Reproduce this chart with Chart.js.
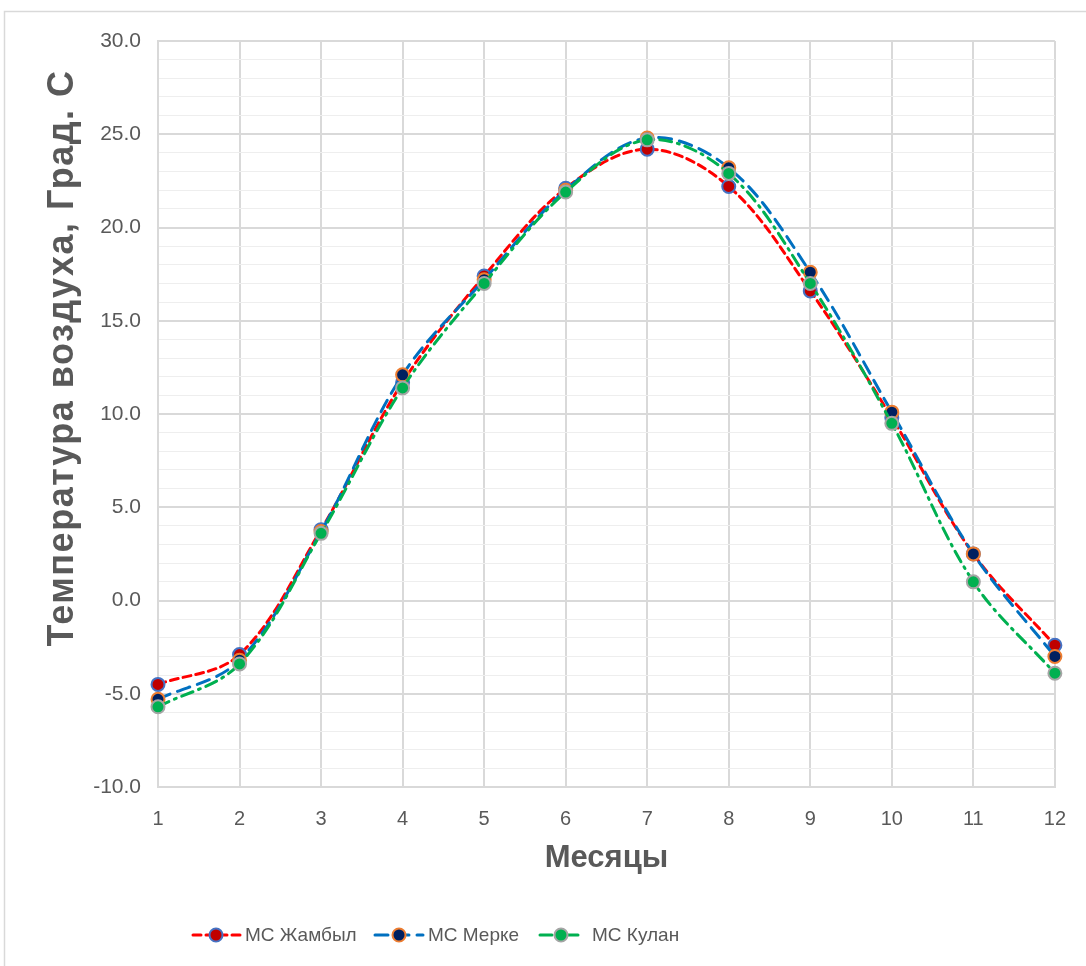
<!DOCTYPE html>
<html>
<head>
<meta charset="utf-8">
<script src="https://cdn.jsdelivr.net/npm/chart.js@4/dist/chart.umd.min.js"></script>
<style>
  html, body { margin: 0; padding: 0; background: #ffffff; }
  #wrap { position: relative; width: 1086px; height: 966px; }
  canvas { display: block; }
</style>
</head>
<body>
<div id="wrap"><canvas id="c" width="1086" height="966"></canvas></div>
<script>
// ---- data ----
const months = ['1', '2', '3', '4', '5', '6', '7', '8', '9', '10', '11', '12'];
const seriesNames = ['МС Жамбыл', 'МС Мерке', 'МС Кулан'];
const zhambyl = [-4.5, -2.9, 3.8, 11.7, 17.4, 22.1, 24.2, 22.2, 16.6, 9.8, 2.5, -2.4];
const merke   = [-5.3, -3.2, 3.7, 12.1, 17.2, 22.0, 24.8, 23.2, 17.6, 10.1, 2.5, -3.0];
const kulan   = [-5.7, -3.4, 3.6, 11.4, 17.0, 21.9, 24.7, 22.9, 17.0, 9.5, 1.0, -3.9];
const xTitle = 'Месяцы';
const yTitle = 'Температура воздуха, Град. С';
const yMin = -10, yMax = 30, yMajor = 5, yMinor = 1;

const FONT = '"Liberation Sans", Arial, sans-serif';
const TXT = '#595959';

const styles = [
  { line: '#ff0000', dash: [8, 5], fill: '#c00000', border: '#4472c4' },
  { line: '#0070c0', dash: [13, 8], fill: '#002060', border: '#ed7d31' },
  { line: '#00b050', dash: [12, 6, 2, 6], fill: '#00b050', border: '#a5a5a5' }
];

const allData = [zhambyl, merke, kulan];
const datasets = allData.map((d, i) => ({
  label: seriesNames[i],
  data: d,
  borderColor: styles[i].line,
  borderWidth: 3,
  borderDash: styles[i].dash,
  borderCapStyle: 'round',
  tension: 0.35,
  fill: false,
  pointRadius: 6.5,
  pointBorderWidth: 2,
  pointBackgroundColor: styles[i].fill,
  pointBorderColor: styles[i].border,
  order: 3 - i
}));

const frame = {
  id: 'frame',
  beforeDraw(chart) {
    const ctx = chart.ctx;
    ctx.save();
    ctx.fillStyle = '#ffffff';
    ctx.fillRect(0, 0, chart.width, chart.height);
    ctx.strokeStyle = '#d9d9d9';
    ctx.lineWidth = 1.5;
    ctx.strokeRect(4.5, 11.5, 1100, 970);
    ctx.restore();
  }
};

// vertical axis title, placed where the reference has it
const yTitlePlugin = {
  id: 'yTitlePlugin',
  afterDraw(chart) {
    const ctx = chart.ctx;
    ctx.save();
    ctx.translate(63, 358);
    ctx.rotate(-Math.PI / 2);
    ctx.fillStyle = TXT;
    ctx.font = 'bold 36px ' + FONT;
    if ('letterSpacing' in ctx) ctx.letterSpacing = '1.5px';
    ctx.textAlign = 'center';
    ctx.textBaseline = 'middle';
    ctx.fillText(yTitle, 0, 0);
    ctx.restore();
  }
};

const customLegend = {
  id: 'customLegend',
  afterDraw(chart) {
    const ctx = chart.ctx;
    const pos = [
      { x0: 193, x1: 240, mx: 216, tx: 245 },
      { x0: 375, x1: 423, mx: 399, tx: 428 },
      { x0: 540, x1: 580, mx: 561, tx: 592 }
    ];
    const y = 935;
    ctx.save();
    chart.data.datasets.forEach((ds, i) => {
      const p = pos[i];
      ctx.strokeStyle = ds.borderColor;
      ctx.lineWidth = 3;
      ctx.setLineDash(ds.borderDash);
      ctx.lineCap = 'round';
      ctx.beginPath();
      ctx.moveTo(p.x0, y);
      ctx.lineTo(p.x1, y);
      ctx.stroke();
      ctx.setLineDash([]);
      ctx.beginPath();
      ctx.arc(p.mx, y, 6.5, 0, Math.PI * 2);
      ctx.fillStyle = ds.pointBackgroundColor;
      ctx.fill();
      ctx.lineWidth = 2;
      ctx.strokeStyle = ds.pointBorderColor;
      ctx.stroke();
      ctx.fillStyle = TXT;
      ctx.font = '19px ' + FONT;
      ctx.textBaseline = 'middle';
      ctx.textAlign = 'left';
      ctx.fillText(ds.label, p.tx, y + 1);
    });
    ctx.restore();
  }
};

new Chart(document.getElementById('c'), {
  type: 'line',
  data: { labels: months, datasets },
  options: {
    responsive: false,
    animation: false,
    devicePixelRatio: 1,
    layout: { padding: { left: 0, right: 29, top: 41, bottom: 79 } },
    plugins: {
      legend: { display: false },
      tooltip: { enabled: false }
    },
    scales: {
      x: {
        type: 'category',
        offset: false,
        grid: { color: '#d9d9d9', lineWidth: 2, drawTicks: false },
        border: { color: '#d9d9d9', width: 2 },
        ticks: { color: TXT, font: { family: FONT, size: 20 }, padding: 20, maxRotation: 0 },
        title: { display: true, text: xTitle, color: TXT, font: { family: FONT, size: 31, weight: 'bold' }, padding: { top: 0, bottom: 10 } },
        afterFit(scale) { scale.height = 100; }
      },
      y: {
        min: yMin, max: yMax,
        grid: {
          drawTicks: false,
          color: (c) => (c.tick && Math.abs(c.tick.value % yMajor) < 1e-9) ? '#d9d9d9' : '#eeeeee',
          lineWidth: (c) => (c.tick && Math.abs(c.tick.value % yMajor) < 1e-9) ? 2 : 1
        },
        border: { color: '#d9d9d9', width: 2 },
        ticks: {
          stepSize: yMinor,
          autoSkip: false,
          color: TXT,
          font: { family: FONT, size: 21 },
          padding: 17,
          callback: (v) => (Math.abs(v % yMajor) < 1e-9) ? Number(v).toFixed(1) : ''
        },
        title: { display: false, text: yTitle },
        afterFit(scale) { scale.width = 158; }
      }
    }
  },
  plugins: [frame, yTitlePlugin, customLegend]
});
</script>
</body>
</html>
